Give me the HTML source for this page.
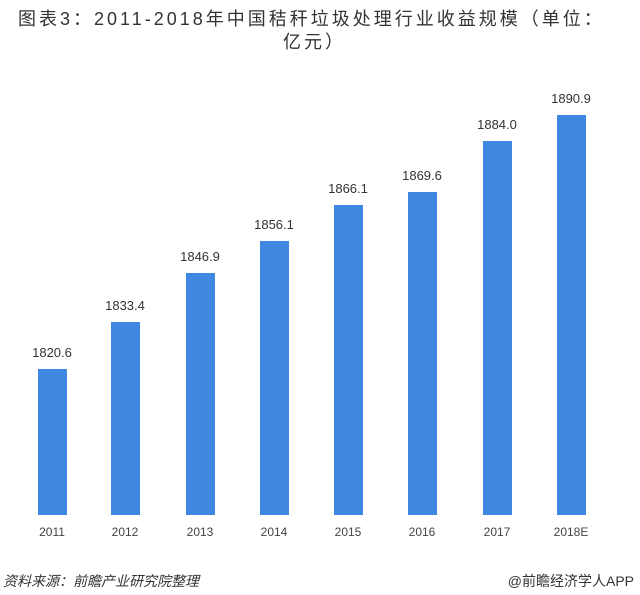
<!DOCTYPE html>
<html><head><meta charset="utf-8"><style>
body{margin:0;width:640px;height:595px;background:#fff;position:relative;overflow:hidden;font-family:"Liberation Sans","Noto Sans CJK SC",sans-serif;}
.t{position:absolute;color:#333;font-size:18px;white-space:nowrap;letter-spacing:3px}
.bar{position:absolute;background:#3f87e0;width:29px;bottom:80px}
.v{position:absolute;font-size:13px;color:#333;width:80px;text-align:center}
.y{position:absolute;font-size:12px;color:#444;width:80px;text-align:center;top:525px}
</style></head><body>
<div class="t" style="left:18px;top:5px">图表3：2011-2018年中国秸秆垃圾处理行业收益规模（单位：</div>
<div class="t" style="left:283px;top:28px">亿元）</div>
<div class="bar" style="left:38px;top:369px"></div>
<div class="bar" style="left:111px;top:322px"></div>
<div class="bar" style="left:186px;top:273px"></div>
<div class="bar" style="left:260px;top:241px"></div>
<div class="bar" style="left:334px;top:205px"></div>
<div class="bar" style="left:408px;top:192px"></div>
<div class="bar" style="left:483px;top:141px"></div>
<div class="bar" style="left:557px;top:115px"></div>
<div class="v" style="left:12px;top:345px">1820.6</div>
<div class="v" style="left:85px;top:298px">1833.4</div>
<div class="v" style="left:160px;top:249px">1846.9</div>
<div class="v" style="left:234px;top:217px">1856.1</div>
<div class="v" style="left:308px;top:181px">1866.1</div>
<div class="v" style="left:382px;top:168px">1869.6</div>
<div class="v" style="left:457px;top:117px">1884.0</div>
<div class="v" style="left:531px;top:91px">1890.9</div>
<div class="y" style="left:12px">2011</div>
<div class="y" style="left:85px">2012</div>
<div class="y" style="left:160px">2013</div>
<div class="y" style="left:234px">2014</div>
<div class="y" style="left:308px">2015</div>
<div class="y" style="left:382px">2016</div>
<div class="y" style="left:457px">2017</div>
<div class="y" style="left:531px">2018E</div>
<div style="position:absolute;left:3px;top:571px;font-size:14px;color:#333;font-style:italic">资料来源：前瞻产业研究院整理</div>
<div style="position:absolute;right:6px;top:571px;font-size:14px;color:#333">@前瞻经济学人APP</div>
</body></html>
